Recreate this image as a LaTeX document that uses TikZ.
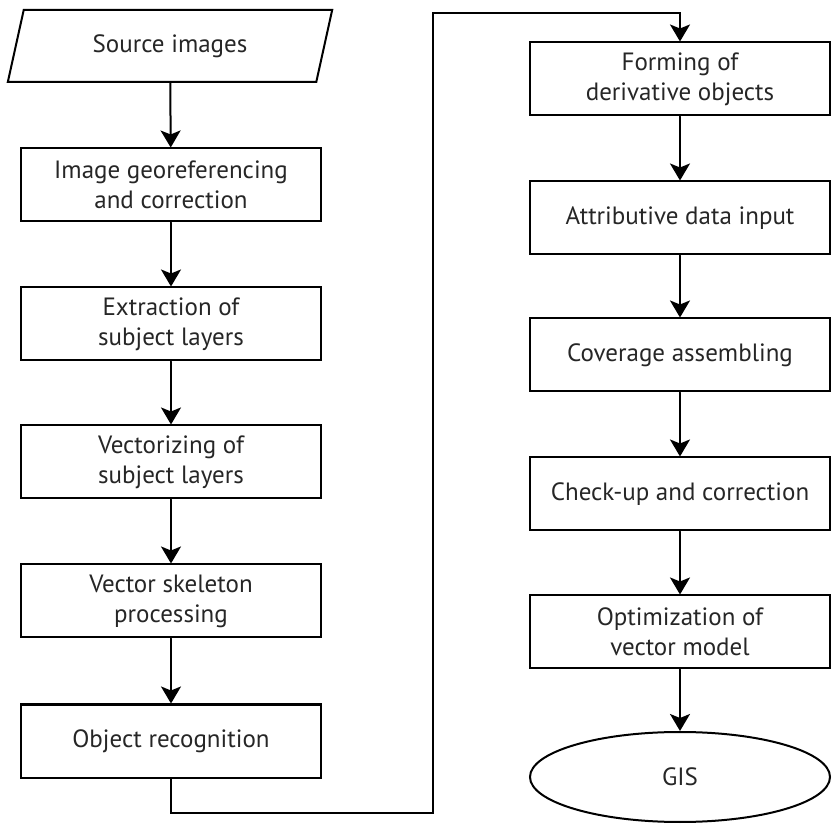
\documentclass[tikz,border=0pt]{standalone}
\usepackage{fontspec}
\setmainfont{PT Sans}
\usetikzlibrary{arrows.meta,shapes.geometric}

\begin{document}
\begin{tikzpicture}[line cap=round,line join=miter,>={Stealth[length=8.5pt,width=10pt,inset=2pt]},x=0.5pt,y=-0.5pt,
	txt/.style={font=\fontsize{12.5}{15}\selectfont,align=center,text=black!85},
	stepbox/.style={txt,draw,line width=1pt,minimum width=150pt,minimum height=36.5pt,inner sep=0pt},
	inbox/.style={txt,draw,line width=1pt,trapezium,trapezium left angle=70,trapezium right angle=110,trapezium stretches=true,minimum width=163pt,minimum height=36pt,inner sep=0pt},
	endbox/.style={txt,draw,line width=1pt,ellipse,minimum width=150pt,minimum height=45pt,inner sep=0pt},
	flow/.style={->,line width=1pt}]
	\useasboundingbox (0,0) rectangle (832,824);
	% left column
	\node[inbox] (src) at (170,46) {Source images};
	\node[stepbox] (geo) at (171,185) {Image georeferencing\\and correction};
	\node[stepbox] (extr) at (171,324) {Extraction of\\subject layers};
	\node[stepbox] (vect) at (171,462) {Vectorizing of\\subject layers};
	\node[stepbox] (skel) at (171,601) {Vector skeleton\\processing};
	\node[stepbox] (recog) at (171,741) {Object recognition};
	% right column
	\node[stepbox] (deriv) at (680,79) {Forming of\\derivative objects};
	\node[stepbox] (attr) at (680,218) {Attributive data input};
	\node[stepbox] (cover) at (680,355) {Coverage assembling};
	\node[stepbox] (check) at (680,494) {Check-up and correction};
	\node[stepbox] (optim) at (680,632) {Optimization of\\vector model};
	\node[endbox] (gis) at (680,777) {GIS};
	% turning points of the long connector
	\coordinate (low) at (433,813);
	\coordinate (high) at (433,13);
	\draw[flow] (src) -- (geo);
	\draw[flow] (geo) -- (extr);
	\draw[flow] (extr) -- (vect);
	\draw[flow] (vect) -- (skel);
	\draw[flow] (skel) -- (recog);
	\draw[flow] (recog) -- (recog.south |- low) -- (low) -- (high) -- (high -| deriv) -- (deriv);
	\draw[flow] (deriv) -- (attr);
	\draw[flow] (attr) -- (cover);
	\draw[flow] (cover) -- (check);
	\draw[flow] (check) -- (optim);
	\draw[flow] (optim) -- (gis);
\end{tikzpicture}
\end{document}
